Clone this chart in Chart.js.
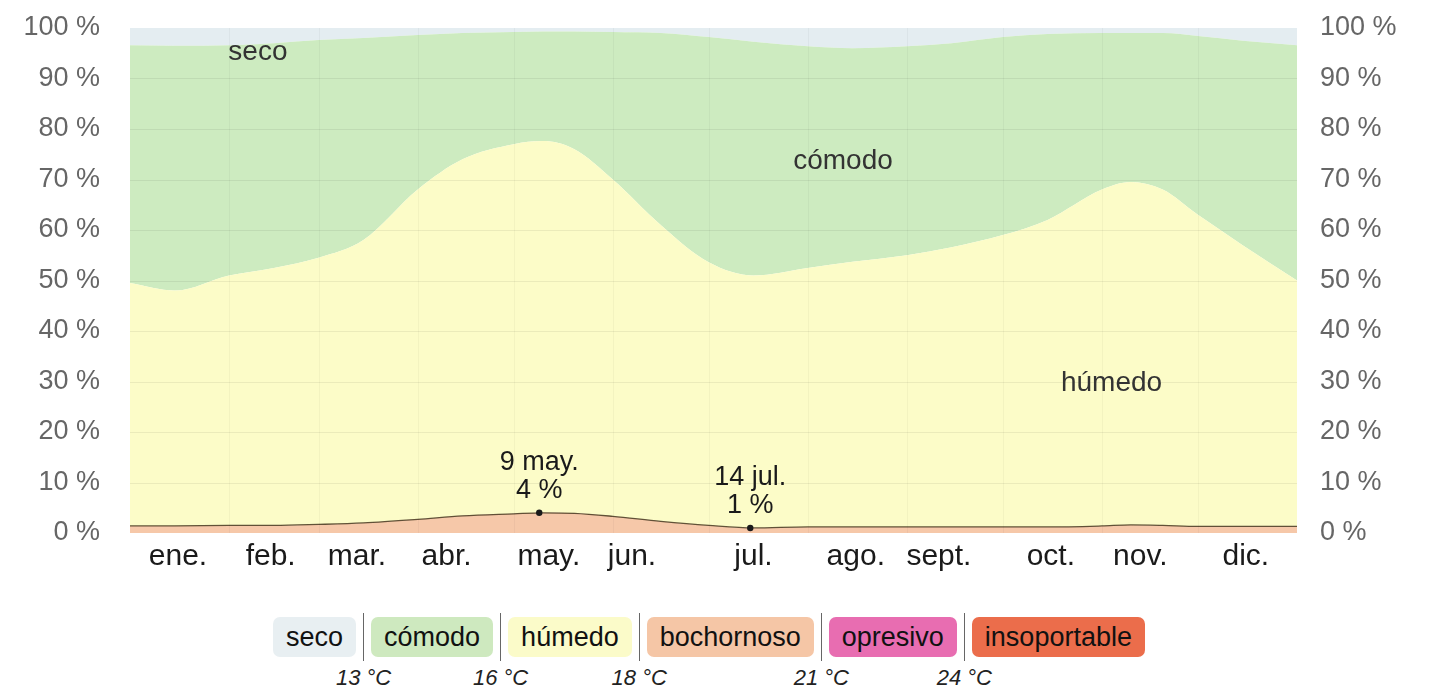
<!DOCTYPE html>
<html lang="es">
<head>
<meta charset="utf-8">
<script src="https://cdn.jsdelivr.net/npm/chart.js@4/dist/chart.umd.min.js"></script>
<style>
  body { margin: 0; background: #fff; font-family: "Liberation Sans", Arial, sans-serif; }
  #wrap { position: relative; width: 1429px; height: 690px; }
  #chartBox { position: absolute; left: 0; top: 0; width: 1429px; height: 600px; }
  #legend { position: absolute; left: 273px; top: 613px; display: flex; align-items: center; }
  .item { height: 40px; line-height: 40px; padding: 0 13px; border-radius: 7px; font-size: 27px; color: #111; }
  .sep { position: relative; width: 1px; height: 48px; background: #666; margin: 0 7px; }
  .sep span { position: absolute; top: 52px; left: 50%; transform: translateX(-50%); white-space: nowrap;
              font-style: italic; font-size: 22px; color: #222; }
</style>
</head>
<body>
<div id="wrap">
  <div id="chartBox"><canvas id="comfortChart" width="1429" height="600"></canvas></div>
  <div id="legend"></div>
</div>
<script>
// day of year (0 = 1 ene.) where values were read
const days = [0, 14, 31, 45, 59, 73, 90, 104, 120, 129, 139, 151, 166, 181, 195, 212, 226, 243, 257, 273, 287, 304, 313, 323, 334, 348, 365];

// share of time (%) in each comfort level
const bochornoso = [1.4, 1.4, 1.5, 1.5, 1.7, 2.0, 2.7, 3.4, 3.8, 4.0, 3.9, 3.3, 2.3, 1.5, 1.0, 1.2, 1.2, 1.2, 1.2, 1.2, 1.2, 1.4, 1.6, 1.5, 1.3, 1.3, 1.3];
const humedo = [48.1, 46.6, 49.5, 51.0, 52.8, 56.0, 65.3, 70.6, 73.2, 73.6, 72.1, 66.7, 58.7, 52.1, 50.0, 51.3, 52.5, 53.8, 55.4, 57.8, 60.8, 66.6, 67.9, 66.5, 61.7, 55.7, 48.7];
const comodo = [47.1, 48.5, 45.6, 44.5, 43.1, 40.0, 30.6, 25.0, 22.2, 21.7, 23.3, 29.2, 38.0, 44.6, 46.3, 43.9, 42.3, 41.4, 40.4, 39.2, 36.8, 31.0, 29.5, 31.0, 35.4, 40.5, 46.6];
const seco = [3.4, 3.5, 3.4, 3.0, 2.4, 2.0, 1.4, 1.0, 0.8, 0.7, 0.7, 0.8, 1.0, 1.8, 2.7, 3.6, 4.0, 3.6, 3.0, 1.8, 1.2, 1.0, 1.0, 1.0, 1.6, 2.5, 3.4];

const monthLabels = ['ene.', 'feb.', 'mar.', 'abr.', 'may.', 'jun.', 'jul.', 'ago.', 'sept.', 'oct.', 'nov.', 'dic.'];
const monthLabelDays = [15, 44, 71, 99, 131, 157, 195, 227, 253, 288, 316, 349];
const monthStartDays = [31, 59, 90, 120, 151, 181, 212, 243, 273, 304, 334];
const yTicks = [0, 10, 20, 30, 40, 50, 60, 70, 80, 90, 100];

// labels inside the areas: [text, day, value]
const areaLabels = [['seco', 40, 95.2], ['cómodo', 223, 73.7], ['húmedo', 307, 29.7]];

// extreme points of bochornoso
const annotDays = [128, 194];
const annotDates = ['9 may.', '14 jul.'];
const annotValues = [4, 1];

const legendNames = ['seco', 'cómodo', 'húmedo', 'bochornoso', 'opresivo', 'insoportable'];
const legendColors = ['#e8eff2', '#cee9bf', '#fbfbc9', '#f5c6a6', '#e86db1', '#eb6d4b'];
const legendTemps = ['13 °C', '16 °C', '18 °C', '21 °C', '24 °C'];

const W = 1429, H = 600;
const plotLeft = 130, plotRight = 1297, plotTop = 28, plotBottom = 533;
const FONT = '"Liberation Sans", Arial, sans-serif';

function pts(vals) {
  return days.map((d, i) => ({ x: d, y: vals[i] }));
}

function area(label, vals, color, fill, border) {
  return {
    label: label,
    data: pts(vals),
    backgroundColor: color,
    borderColor: border || 'rgba(0,0,0,0)',
    borderWidth: border ? 1.3 : 0,
    fill: fill,
    pointRadius: 0,
    cubicInterpolationMode: 'monotone',
    tension: 0.4
  };
}

// y axes: fixed width, and no extra top/bottom room from the tick padding
function fitY(width) {
  return s => {
    s.width = width;
    s.paddingTop = 0;
    s.paddingBottom = 0;
  };
}

// grid drawn over the filled areas, then the texts
const overlayPlugin = {
  id: 'overlayPlugin',
  afterDatasetsDraw(chart) {
    const ctx = chart.ctx;
    const xs = chart.scales.x, ys = chart.scales.y;
    const a = chart.chartArea;
    ctx.save();
    ctx.lineWidth = 1;
    ctx.strokeStyle = 'rgba(0,0,0,0.035)';
    monthStartDays.forEach(d => {
      const px = Math.round(xs.getPixelForValue(d)) + 0.5;
      ctx.beginPath(); ctx.moveTo(px, a.top); ctx.lineTo(px, a.bottom); ctx.stroke();
    });
    ctx.strokeStyle = 'rgba(0,0,0,0.065)';
    yTicks.slice(1, -1).forEach(v => {
      const py = Math.round(ys.getPixelForValue(v)) + 0.5;
      ctx.beginPath(); ctx.moveTo(a.left, py); ctx.lineTo(a.right, py); ctx.stroke();
    });

    ctx.font = '28px ' + FONT;
    ctx.fillStyle = '#333';
    ctx.textAlign = 'center';
    ctx.textBaseline = 'middle';
    areaLabels.forEach(([t, d, v]) => {
      ctx.fillText(t, xs.getPixelForValue(d), ys.getPixelForValue(v));
    });
    ctx.font = '27px ' + FONT;
    ctx.fillStyle = '#1a1a1a';
    ctx.textBaseline = 'bottom';
    annotDays.forEach((d, i) => {
      const px = xs.getPixelForValue(d);
      const py = ys.getPixelForValue(annotValues[i]);
      ctx.beginPath();
      ctx.arc(px, py, 3.2, 0, Math.PI * 2);
      ctx.fill();
      ctx.fillText(annotValues[i] + ' %', px, py - 9);
      ctx.fillText(annotDates[i], px, py - 37);
    });
    ctx.restore();
  }
};

new Chart(document.getElementById('comfortChart'), {
  type: 'line',
  data: {
    datasets: [
      area('bochornoso', bochornoso, '#f6c8a9', 'origin', 'rgba(70,55,30,0.85)'),
      area('húmedo', humedo, '#fcfcc8', '-1'),
      area('cómodo', comodo, '#cdebc0', '-1'),
      area('seco', seco, '#e4edf1', '-1')
    ]
  },
  options: {
    responsive: false,
    animation: false,
    layout: { padding: { top: plotTop, bottom: 0, left: 0, right: 0 } },
    plugins: { legend: { display: false }, tooltip: { enabled: false } },
    scales: {
      x: {
        type: 'linear', min: 0, max: 365,
        afterBuildTicks: s => { s.ticks = monthLabelDays.map(v => ({ value: v })); },
        afterFit: s => { s.height = H - plotBottom; },
        ticks: {
          autoSkip: false, maxRotation: 0, padding: 6,
          color: '#1a1a1a', font: { size: 30, family: FONT },
          callback: (v, i) => monthLabels[i]
        },
        grid: { display: false, drawTicks: false },
        border: { display: false }
      },
      y: {
        stacked: true, min: 0, max: 100,
        afterBuildTicks: s => { s.ticks = yTicks.map(v => ({ value: v })); },
        afterFit: fitY(plotLeft),
        ticks: {
          padding: 30, color: '#666',
          font: { size: 27, family: FONT },
          callback: v => v + ' %'
        },
        grid: { display: false, drawTicks: false },
        border: { display: false }
      },
      y2: {
        position: 'right', min: 0, max: 100,
        afterBuildTicks: s => { s.ticks = yTicks.map(v => ({ value: v })); },
        afterFit: fitY(W - plotRight),
        ticks: {
          padding: 23, color: '#666',
          font: { size: 27, family: FONT },
          callback: v => v + ' %'
        },
        grid: { display: false, drawTicks: false },
        border: { display: false }
      }
    }
  },
  plugins: [overlayPlugin]
});

const legend = document.getElementById('legend');
legendNames.forEach((name, i) => {
  const item = document.createElement('div');
  item.className = 'item';
  item.style.background = legendColors[i];
  item.textContent = name;
  legend.appendChild(item);
  if (i < legendTemps.length) {
    const sep = document.createElement('div');
    sep.className = 'sep';
    sep.innerHTML = '<span>' + legendTemps[i] + '</span>';
    legend.appendChild(sep);
  }
});
</script>
</body>
</html>
